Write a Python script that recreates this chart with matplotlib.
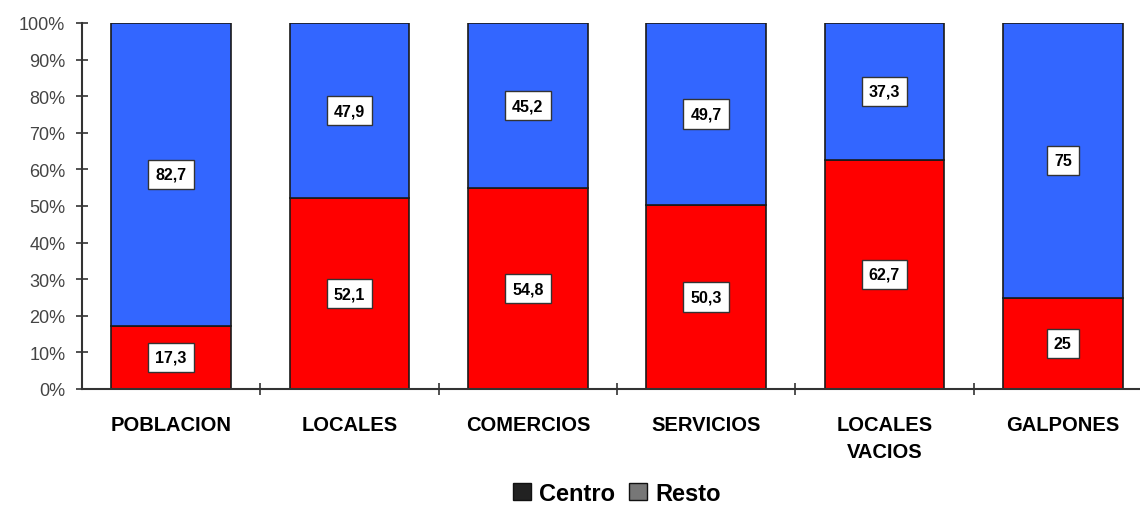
import matplotlib.pyplot as plt
import numpy as np

plt.rcParams['font.family'] = ['Liberation Sans', 'DejaVu Sans']

categorias = ['POBLACION', 'LOCALES', 'COMERCIOS', 'SERVICIOS', 'LOCALES\nVACIOS', 'GALPONES']
centro = [17.3, 52.1, 54.8, 50.3, 62.7, 25]
resto = [82.7, 47.9, 45.2, 49.7, 37.3, 75]
etiq_centro = ['17,3', '52,1', '54,8', '50,3', '62,7', '25']
etiq_resto = ['82,7', '47,9', '45,2', '49,7', '37,3', '75']

fig = plt.figure(figsize=(11.4, 5.1), dpi=100)
ax = fig.add_axes([82 / 1140, 1 - 390 / 510, 1070 / 1140, 366 / 510])

x = np.arange(len(categorias))
ancho = 0.67
ax.bar(x, centro, ancho, color='#ff0000', edgecolor='#1a1a1a', linewidth=1.2, label='Centro')
ax.bar(x, resto, ancho, bottom=centro, color='#3366ff', edgecolor='#1a1a1a', linewidth=1.2, label='Resto')

caja = dict(boxstyle='square,pad=0.45', facecolor='white', edgecolor='#333333', linewidth=1)
for i in range(len(categorias)):
    ax.text(x[i], centro[i] / 2, etiq_centro[i], ha='center', va='center',
            fontsize=11.5, fontweight='bold', bbox=caja)
    ax.text(x[i], centro[i] + resto[i] / 2, etiq_resto[i], ha='center', va='center',
            fontsize=11.5, fontweight='bold', bbox=caja)

ax.set_xlim(-0.5, len(categorias) - 0.5)
ax.set_ylim(0, 100)
ax.set_yticks(np.arange(0, 101, 10))
ax.set_yticklabels([f'{v}%' for v in range(0, 101, 10)], fontsize=13, color='#444444')
ax.set_xticks(x)
ax.set_xticklabels(categorias, fontsize=14.5, fontweight='bold', linespacing=1.5)
ax.tick_params(axis='x', length=0, pad=19)
ax.set_xticks(np.arange(0.5, len(categorias) - 0.5, 1), minor=True)
ax.tick_params(axis='x', which='minor', length=8, direction='inout', width=1.2, color='#333333')
ax.tick_params(axis='y', length=8, direction='inout', width=1.2, color='#333333', pad=8)

for s in ['top', 'right']:
    ax.spines[s].set_visible(False)
ax.spines['left'].set_linewidth(1.5)
ax.spines['bottom'].set_linewidth(1.5)
ax.spines['left'].set_color('#333333')
ax.spines['bottom'].set_color('#333333')

ax.legend(handles=[plt.Rectangle((0, 0), 1, 1, facecolor='#222222', edgecolor='#111111'),
                   plt.Rectangle((0, 0), 1, 1, facecolor='#777777', edgecolor='#111111')],
          labels=['Centro', 'Resto'], loc='center', bbox_to_anchor=(0.5, -0.285),
          ncol=2, frameon=False, handlelength=0.75, handleheight=0.75,
          handletextpad=0.35, columnspacing=0.6,
          prop={'weight': 'bold', 'size': 17})

fig.savefig('out.png', dpi=100)
